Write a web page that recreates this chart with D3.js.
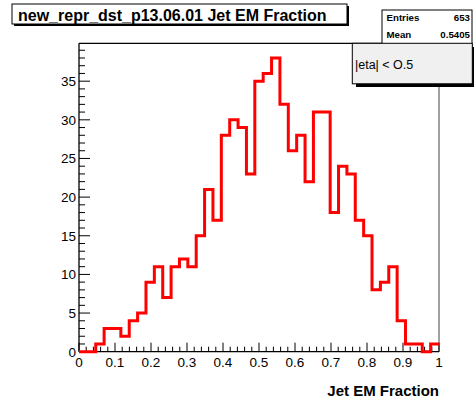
<!DOCTYPE html>
<html>
<head>
<meta charset="utf-8">
<script src="https://cdn.jsdelivr.net/npm/d3@7"></script>
<style>
  html, body { margin: 0; padding: 0; background: #fff; }
  svg { display: block; }
  text { font-family: "Liberation Sans", Arial, Helvetica, sans-serif; }
</style>
</head>
<body>
<svg id="chart" width="474" height="401"></svg>
<script>
// ---- data ----
const titleText = "new_repr_dst_p13.06.01 Jet EM Fraction";
const xAxisTitle = "Jet EM Fraction";
const legendText = "|eta| < O.5";
const statsLabels = ["Entries", "Mean"];
const statsValues = ["653", "0.5405"];
const xRange = [0, 1];
const yMax = 39.9;
// 43 equal-width bins over [0, 1]
const counts = [0,0,1,3,3,2,4,5,9,11,7,11,12,11,15,21,17,28,30,29,23,35,36,38,32,26,28,22,31,31,18,24,23,17,15,8,9,11,4,1,1,0,1];
const xMajorTicks = [0,0.1,0.2,0.3,0.4,0.5,0.6,0.7,0.8,0.9,1];
const xTickLabels = ["0","0.1","0.2","0.3","0.4","0.5","0.6","0.7","0.8","0.9","1"];
const yMajorTicks = [0,5,10,15,20,25,30,35];
const yTickLabels = ["0","5","10","15","20","25","30","35"];

(function () {
// ---- layout ----
const pL = 79, pR = 439, pT = 43.3, pB = 351.7;
const svg = d3.select("#chart");

const x = d3.scaleLinear().domain(xRange).range([pL, pR]);
const y = d3.scaleLinear().domain([0, yMax]).range([pB, pT]);

// frame
svg.append("line").attr("x1", pL).attr("x2", pR).attr("y1", pT).attr("y2", pT)
  .attr("stroke", "#000").attr("stroke-width", 1.2);
svg.append("line").attr("x1", pR).attr("x2", pR).attr("y1", pT).attr("y2", pB)
  .attr("stroke", "#808080").attr("stroke-width", 1.5);

// histogram step path
const nb = counts.length;
const binW = (xRange[1] - xRange[0]) / nb;
const pts = [];
counts.forEach((c, i) => {
  const x0 = xRange[0] + i * binW, x1 = xRange[0] + (i + 1) * binW;
  pts.push([x(x0), y(c)]);
  pts.push([x(x1), y(c)]);
});

// y axis
const yMinor = d3.range(0, Math.floor(yMax) + 1, 1);
const gy = svg.append("g");
gy.append("line").attr("x1", pL).attr("x2", pL).attr("y1", pT).attr("y2", pB)
  .attr("stroke", "#000").attr("stroke-width", 1.3);
gy.selectAll("line.minor").data(yMinor.filter(v => v % 5 !== 0)).enter().append("line")
  .attr("class", "minor")
  .attr("x1", pL).attr("x2", pL + 6).attr("y1", d => y(d)).attr("y2", d => y(d))
  .attr("stroke", "#000").attr("stroke-width", 1);
gy.selectAll("line.major").data(yMajorTicks).enter().append("line")
  .attr("class", "major")
  .attr("x1", pL).attr("x2", pL + 11).attr("y1", d => y(d)).attr("y2", d => y(d))
  .attr("stroke", "#000").attr("stroke-width", 1);
gy.selectAll("text").data(yMajorTicks).enter().append("text")
  .attr("x", pL - 3).attr("y", d => y(d)).attr("dy", "0.36em")
  .attr("text-anchor", "end").attr("font-size", 13.5).attr("fill", "#000")
  .text((d, i) => yTickLabels[i]);

// x axis
const xMinor = d3.range(0, 51).map(k => k / 50);
const gx = svg.append("g");
gx.append("line").attr("x1", pL).attr("x2", pR).attr("y1", pB).attr("y2", pB)
  .attr("stroke", "#000").attr("stroke-width", 1.3);
gx.selectAll("line.minor").data(xMinor.filter(v => Math.round(v * 50) % 5 !== 0)).enter().append("line")
  .attr("class", "minor")
  .attr("x1", d => x(d)).attr("x2", d => x(d)).attr("y1", pB).attr("y2", pB - 5)
  .attr("stroke", "#000").attr("stroke-width", 1);
gx.selectAll("line.major").data(xMajorTicks).enter().append("line")
  .attr("class", "major")
  .attr("x1", d => x(d)).attr("x2", d => x(d)).attr("y1", pB).attr("y2", pB - 9)
  .attr("stroke", "#000").attr("stroke-width", 1);
gx.selectAll("text").data(xMajorTicks).enter().append("text")
  .attr("x", d => x(d)).attr("y", 367)
  .attr("text-anchor", "middle").attr("font-size", 13.5).attr("fill", "#000")
  .text((d, i) => xTickLabels[i]);

svg.append("path")
  .attr("d", d3.line()(pts))
  .attr("fill", "none")
  .attr("stroke", "#ff0000")
  .attr("stroke-width", 3)
  .attr("stroke-linejoin", "miter");

svg.append("text").attr("x", pR).attr("y", 396).attr("text-anchor", "end")
  .attr("font-size", 15).attr("font-weight", "bold").text(xAxisTitle);

// title box
svg.append("rect").attr("x", 14).attr("y", 6).attr("width", 335).attr("height", 20).attr("fill", "#000");
svg.append("rect").attr("x", 12).attr("y", 4).attr("width", 335).attr("height", 20)
  .attr("fill", "#fff").attr("stroke", "#000").attr("stroke-width", 1);
svg.append("text").attr("x", 18).attr("y", 20.5).attr("font-size", 16).attr("font-weight", "bold")
  .text(titleText);

// stats box
svg.append("rect").attr("x", 382).attr("y", 10).attr("width", 90).attr("height", 40)
  .attr("fill", "#fff").attr("stroke", "#000").attr("stroke-width", 1);
statsLabels.forEach((l, i) => {
  svg.append("text").attr("x", 386.5).attr("y", 20.5 + i * 17).attr("font-size", 9.7)
    .attr("font-weight", "bold").text(l);
  svg.append("text").attr("x", 470).attr("y", 20.5 + i * 17).attr("font-size", 9.7)
    .attr("font-weight", "bold").attr("text-anchor", "end").text(statsValues[i]);
});

// legend box
svg.append("rect").attr("x", 356).attr("y", 47).attr("width", 120).attr("height", 40).attr("fill", "#000");
svg.append("rect").attr("x", 352.3).attr("y", 43.3).attr("width", 120).attr("height", 40.5)
  .attr("fill", "#f0f0f0").attr("stroke", "#000").attr("stroke-width", 1);
svg.append("text").attr("x", 355).attr("y", 68.5).attr("font-size", 12.5).attr("fill", "#000")
  .text(legendText);
})();
</script>
</body>
</html>
